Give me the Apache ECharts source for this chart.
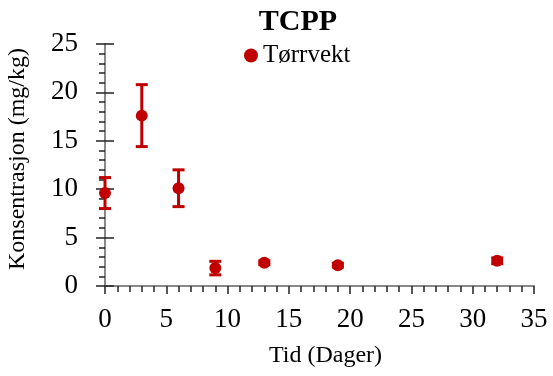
<!DOCTYPE html>
<html>
<head>
<meta charset="utf-8">
<script src="https://cdn.jsdelivr.net/npm/echarts@6/dist/echarts.min.js"></script>
<style>
  html, body { margin: 0; padding: 0; background: #fff; }
  #chart { width: 553px; height: 376px; }
</style>
</head>
<body>
<div id="chart"></div>
<script>
// Sampling days and measured concentrations (mg/kg, dry weight)
const days = [0, 3, 6, 9, 13, 19, 32];
const concentration = [9.6, 17.6, 10.1, 1.85, 2.4, 2.15, 2.6];
const errorBar = [1.6, 3.2, 1.9, 0.7, 0.2, 0.2, 0.3];

const seriesName = 'Tørrvekt';
const red = '#C00000';
const font = 'Liberation Serif, Times New Roman, serif';

const points = days.map((d, i) => [d, concentration[i]]);
const bars = days.map((d, i) => [d, concentration[i] - errorBar[i], concentration[i] + errorBar[i]]);

const chart = echarts.init(document.getElementById('chart'));

const baseY = {
  type: 'value', min: 0, max: 25, interval: 5,
  splitLine: { show: false }
};

chart.setOption({
  animation: false,
  title: {
    text: 'TCPP', left: 293, top: 2, textAlign: 'center',
    textStyle: { fontFamily: font, fontSize: 30, fontWeight: 'bold', color: '#000' }
  },
  legend: {
    data: [{ name: seriesName, icon: 'circle', itemStyle: { color: red, opacity: 1 } }],
    left: 239, top: 38, itemWidth: 14, itemHeight: 14, itemGap: 6,
    textStyle: { fontFamily: font, fontSize: 25, color: '#000' }
  },
  grid: { left: 105, right: 19, top: 44, bottom: 90, outerBoundsMode: 'none' },
  xAxis: {
    type: 'value', min: 0, max: 35, interval: 5,
    name: 'Tid (Dager)', nameLocation: 'middle', nameGap: 58,
    nameTextStyle: { fontFamily: font, fontSize: 24, color: '#000', padding: [0, 0, 0, 12] },
    axisLine: { show: true, lineStyle: { color: '#888', width: 2 } },
    axisTick: { show: true, length: 8, lineStyle: { color: '#222', width: 1.5 } },
    minorTick: { show: true, splitNumber: 5, length: 6, lineStyle: { color: '#222', width: 1.5 } },
    axisLabel: { fontFamily: font, fontSize: 27, color: '#000', margin: 20 },
    splitLine: { show: false }
  },
  yAxis: [
    Object.assign({}, baseY, {
      name: 'Konsentrasjon (mg/kg)', nameLocation: 'middle', nameGap: 75,
      nameTextStyle: { fontFamily: font, fontSize: 24, color: '#000', padding: [0, 0, 0, 12] },
      axisLine: { show: true, lineStyle: { color: '#888', width: 2 } },
      axisTick: { show: true, length: 9, lineStyle: { color: '#222', width: 1.5 } },
      minorTick: { show: true, splitNumber: 5, length: 6, lineStyle: { color: '#222', width: 1.5 } },
      axisLabel: { fontFamily: font, fontSize: 27, color: '#000', margin: 27 }
    }),
    // inner half of the major ticks, so they cross the axis line
    Object.assign({}, baseY, {
      position: 'left', offset: 0,
      axisLine: { show: false },
      axisTick: { show: true, inside: true, length: 9, lineStyle: { color: '#222', width: 1.5 } },
      axisLabel: { show: false }
    })
  ],
  series: [
    {
      type: 'custom',
      name: 'errors',
      data: bars,
      z: 3,
      renderItem: function (params, api) {
        const x = api.coord([api.value(0), api.value(1)])[0];
        const lo = api.coord([api.value(0), api.value(1)])[1];
        const hi = api.coord([api.value(0), api.value(2)])[1];
        const half = 6;
        const style = { stroke: red, lineWidth: 3, fill: null };
        return {
          type: 'group',
          children: [
            { type: 'line', shape: { x1: x, y1: lo, x2: x, y2: hi }, style: style },
            { type: 'line', shape: { x1: x - half, y1: lo, x2: x + half, y2: lo }, style: style },
            { type: 'line', shape: { x1: x - half, y1: hi, x2: x + half, y2: hi }, style: style }
          ]
        };
      },
      encode: { x: 0, y: [1, 2] },
      clip: false,
      silent: true
    },
    {
      type: 'scatter',
      name: seriesName,
      data: points,
      symbol: 'circle',
      symbolSize: 12,
      itemStyle: { color: red, opacity: 1 },
      clip: false,
      z: 4
    }
  ]
});
</script>
</body>
</html>
